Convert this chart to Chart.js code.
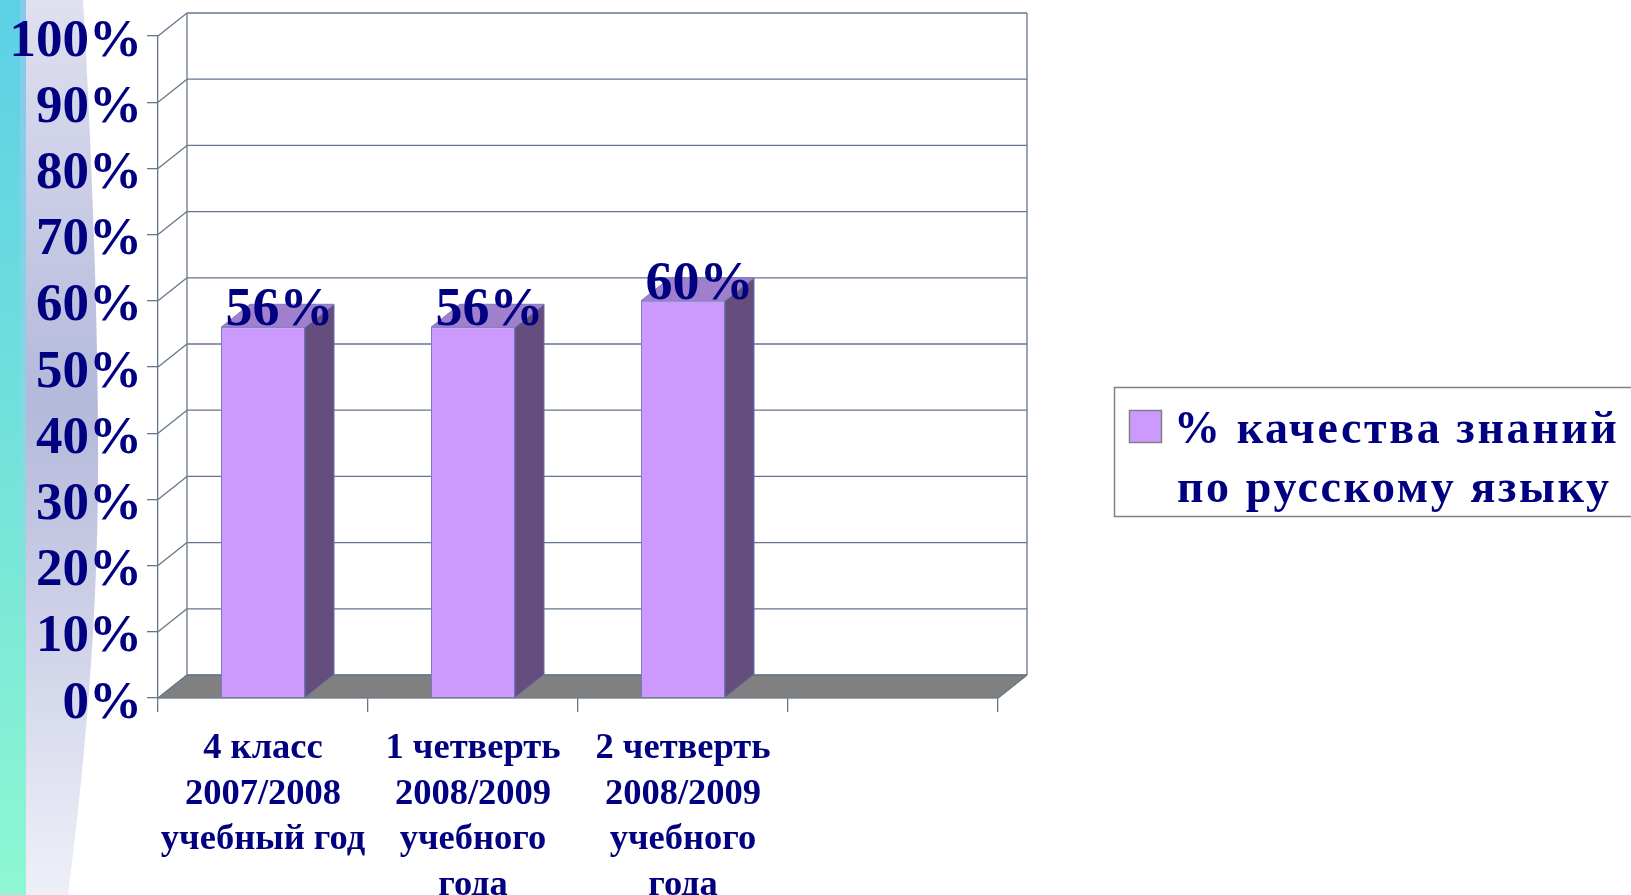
<!DOCTYPE html>
<html><head><meta charset="utf-8">
<script src="https://cdn.jsdelivr.net/npm/chart.js@4.4.1/dist/chart.umd.min.js"></script>
<style>
html,body{margin:0;padding:0;background:#fff;overflow:hidden;}
#wrap{position:relative;width:1631px;height:895px;}
#bg{position:absolute;left:0;top:0;}
#c{position:absolute;left:0;top:0;}
</style></head><body>
<div id="wrap">
<svg id="bg" width="1631" height="895">
 <defs>
  <linearGradient id="g1" x1="0" y1="0" x2="0" y2="1">
    <stop offset="0" stop-color="#5cd0e6"/>
    <stop offset="0.5" stop-color="#72e2da"/>
    <stop offset="1" stop-color="#8ff7d2"/>
  </linearGradient>
  <linearGradient id="g3" x1="0" y1="0" x2="0" y2="1">
    <stop offset="0" stop-color="#b6c2f4" stop-opacity="0.45"/>
    <stop offset="0.5" stop-color="#b6c2f4" stop-opacity="0.25"/>
    <stop offset="0.8" stop-color="#b6c2f4" stop-opacity="0"/>
  </linearGradient>
  <linearGradient id="g2" x1="0" y1="0" x2="0" y2="1">
    <stop offset="0" stop-color="#dfe1f0"/>
    <stop offset="0.45" stop-color="#b4b8da"/>
    <stop offset="1" stop-color="#eef0f8"/>
  </linearGradient>
 </defs>
 <rect x="0" y="0" width="26" height="895" fill="url(#g1)"/>
 <rect x="20" y="0" width="6" height="895" fill="url(#g3)"/>
 <path d="M26 0 L83 0 C 92 150 99 350 98 480 C 97 650 80 800 68 895 L26 895 Z" fill="url(#g2)"/>
</svg>
<canvas id="c" width="1631" height="895"></canvas>
</div>
<script>
// ---- data ----
const categories = [
  ['4 класс', '2007/2008', 'учебный год'],
  ['1 четверть', '2008/2009', 'учебного', 'года'],
  ['2 четверть', '2008/2009', 'учебного', 'года'],
  ''
];
const qualityValues = [56, 56, 60, null];
const yTickLabels = ['0%', '10%', '20%', '30%', '40%', '50%', '60%', '70%', '80%', '90%', '100%'];
const seriesLines = ['% качества знаний', 'по русскому языку'];

// ---- styles ----
const NAVY = '#000080';
const GRID = '#66768a';
const DX = 29, DY = -23;
const FRONT = '#cc99ff', SIDE = '#654d7e', TOP = '#a080cc';

function line(ctx, x1, y1, x2, y2) {
  ctx.beginPath(); ctx.moveTo(x1, y1); ctx.lineTo(x2, y2); ctx.stroke();
}
function poly(ctx, pts, fill, stroke) {
  ctx.beginPath(); ctx.moveTo(pts[0][0], pts[0][1]);
  for (let i = 1; i < pts.length; i++) ctx.lineTo(pts[i][0], pts[i][1]);
  ctx.closePath(); ctx.fillStyle = fill; ctx.fill();
  if (stroke) { ctx.strokeStyle = stroke; ctx.lineWidth = 1; ctx.stroke(); }
}

const threeD = {
  id: 'threeD',
  beforeDatasetsDraw(chart) {
    const ctx = chart.ctx, a = chart.chartArea, y = chart.scales.y;
    const y0 = y.getPixelForValue(0), yTop = y.getPixelForValue(100);
    ctx.save();
    ctx.lineWidth = 1.3; ctx.strokeStyle = GRID;
    poly(ctx, [[a.left, y0], [a.right, y0], [a.right + DX, y0 + DY], [a.left + DX, y0 + DY]], '#808080', GRID);
    y.ticks.forEach(t => {
      const py = y.getPixelForValue(t.value);
      ctx.lineWidth = 1.3; ctx.strokeStyle = GRID;
      line(ctx, a.left, py, a.left + DX, py + DY);
      line(ctx, a.left + DX, py + DY, a.right + DX, py + DY);
    });
    line(ctx, a.left + DX, yTop + DY, a.left + DX, y0 + DY);
    line(ctx, a.right + DX, yTop + DY, a.right + DX, y0 + DY);
    line(ctx, a.right, y0, a.right + DX, y0 + DY);
    ctx.restore();
  },
  afterDatasetsDraw(chart) {
    const ctx = chart.ctx;
    const ds = chart.data.datasets[0];
    const meta = chart.getDatasetMeta(0);
    ctx.save();
    meta.data.forEach((bar, i) => {
      const v = ds.data[i];
      if (v == null) return;
      const p = bar.getProps(['x', 'y', 'base', 'width'], true);
      const l = p.x - p.width / 2, r = p.x + p.width / 2;
      poly(ctx, [[r, p.y], [r + DX, p.y + DY], [r + DX, p.base + DY], [r, p.base]], SIDE, '#6a6aa8');
      poly(ctx, [[l, p.y], [l + DX, p.y + DY], [r + DX, p.y + DY], [r, p.y]], TOP, '#7a7ac0');
    });
    meta.data.forEach((bar, i) => {
      const v = ds.data[i];
      if (v == null) return;
      const p = bar.getProps(['x', 'y'], true);
      ctx.font = 'bold 54px "Liberation Serif"';
      ctx.fillStyle = NAVY; ctx.textAlign = 'center'; ctx.textBaseline = 'alphabetic';
      ctx.fillText(v + '%', p.x + DX / 2 + 2, p.y - 2);
    });
    ctx.restore();
  },
  afterDraw(chart) {
    const ctx = chart.ctx;
    ctx.save();
    ctx.strokeStyle = '#808080'; ctx.lineWidth = 1.5;
    ctx.strokeRect(1114.5, 387.5, 600, 129);
    ctx.fillStyle = FRONT; ctx.fillRect(1129, 410, 33, 32);
    ctx.lineWidth = 1.5; ctx.strokeRect(1129.5, 410.5, 32, 32);
    ctx.font = 'bold 46px "Liberation Serif"';
    ctx.letterSpacing = '2.6px';
    ctx.fillStyle = NAVY; ctx.textAlign = 'left'; ctx.textBaseline = 'alphabetic';
    ctx.fillText(seriesLines[0], 1174, 443);
    ctx.fillText(seriesLines[1], 1177, 502);
    ctx.restore();
  }
};

new Chart(document.getElementById('c'), {
  type: 'bar',
  data: {
    labels: categories,
    datasets: [{
      label: seriesLines.join(' '),
      data: qualityValues,
      backgroundColor: FRONT,
      borderColor: '#7a7ac0',
      borderWidth: 1,
      barPercentage: 0.4,
      categoryPercentage: 1
    }]
  },
  options: {
    responsive: false,
    animation: false,
    devicePixelRatio: 1,
    layout: { padding: { left: 0, top: 36, right: 633, bottom: 0 } },
    plugins: { legend: { display: false }, tooltip: { enabled: false } },
    scales: {
      x: {
        offset: true,
        grid: { display: true, drawOnChartArea: false, drawTicks: true, tickLength: 14, color: GRID, lineWidth: 1.3, offset: true },
        border: { display: true, color: GRID, width: 1.3 },
        ticks: {
          color: NAVY, autoSkip: false, maxRotation: 0, minRotation: 0, padding: 14,
          font: { family: 'Liberation Serif', weight: 'bold', size: 36.5, lineHeight: 1.25 }
        },
        afterFit(s) { s.height = 197; }
      },
      y: {
        min: 0, max: 100,
        grid: { display: true, drawOnChartArea: false, drawTicks: true, tickLength: 11, color: GRID, lineWidth: 1.3 },
        border: { display: true, color: GRID, width: 1.3 },
        ticks: {
          stepSize: 10, color: NAVY, padding: 5, labelOffset: 6, autoSkip: false,
          callback: (v, i) => yTickLabels[i],
          font: { family: 'Liberation Serif', weight: 'bold', size: 53, lineHeight: 1.0 }
        },
        afterFit(s) { s.width = 158; }
      }
    }
  },
  plugins: [threeD]
});
</script>
</body></html>
